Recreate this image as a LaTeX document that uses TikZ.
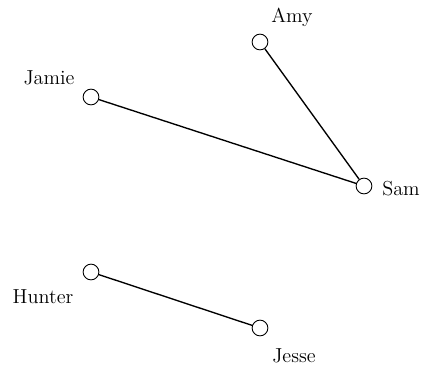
\documentclass[tikz,border=0pt]{standalone}
\begin{document}
\begin{tikzpicture}[x=0.6667pt,y=-0.6667pt,
  vertex/.style={circle,draw,fill=white,line width=0.6pt,minimum size=10.5pt,inner sep=0pt},
  edge/.style={line width=0.9pt},
  tag/.style={font=\fontsize{13.5}{16}\selectfont,inner sep=0pt,anchor=base}]
\useasboundingbox (0,0) rectangle (422,365);
% vertices
\node[vertex] (amy)    at (260,42)  {};
\node[vertex] (jamie)  at (91,97)   {};
\node[vertex] (sam)    at (364,186) {};
\node[vertex] (hunter) at (91,272)  {};
\node[vertex] (jesse)  at (260,328) {};
% edges
\draw[edge] (amy) -- (sam);
\draw[edge] (jamie) -- (sam);
\draw[edge] (hunter) -- (jesse);
% names, placed by their baselines
\node[tag] (amyL)    at (292,22)  {Amy};
\node[tag] (jamieL)  at (49,84)   {Jamie};
\node[tag] (samL)    at (401,195) {Sam};
\node[tag] (hunterL) at (43,303)  {Hunter};
\node[tag] (jesseL)  at (294,362) {Jesse};
\end{tikzpicture}
\end{document}
